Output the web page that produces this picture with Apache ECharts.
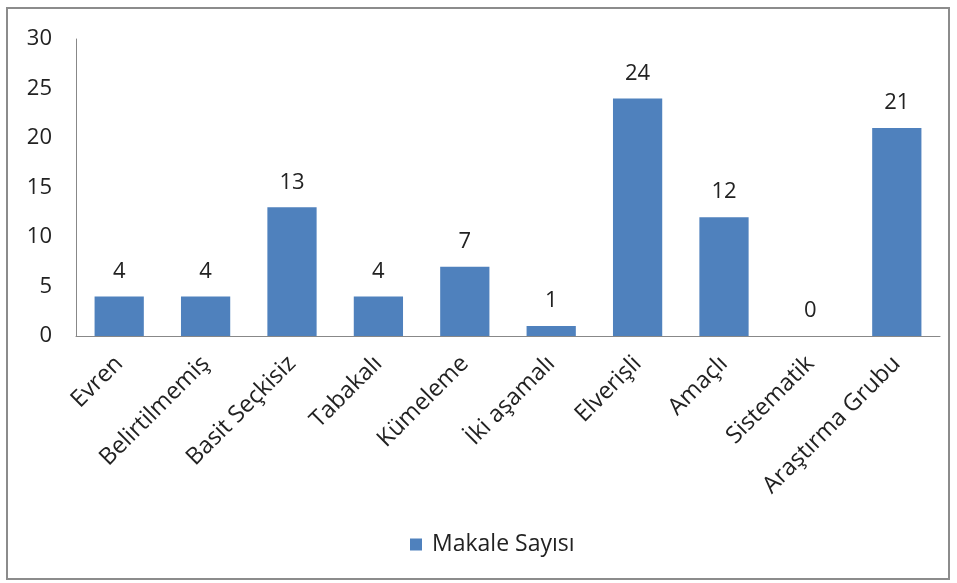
<!DOCTYPE html>
<html><head><meta charset="utf-8">
<script src="https://cdn.jsdelivr.net/npm/echarts@6/dist/echarts.min.js"></script>
<style>html,body{margin:0;padding:0;background:#fff}#c{width:957px;height:583px}</style>
</head><body><div id="c"></div>
<script>
const categories = ["Evren","Belirtilmemiş","Basit Seçkisiz","Tabakalı","Kümeleme","İki aşamalı","Elverişli","Amaçlı","Sistematik","Araştırma Grubu"];
const seriesName = "Makale Sayısı";
const values = [4,4,13,4,7,1,24,12,0,21];
const yTicks = {min:0, max:30, interval:5};
const font = "'Open Sans', 'Liberation Sans', sans-serif";
const chart = echarts.init(document.getElementById('c'), null, {renderer:'canvas'});
chart.setOption({
  animation:false,
  backgroundColor:'#fff',
  graphic:[{type:'rect', shape:{x:7,y:8,width:942,height:571}, style:{fill:'none', stroke:'#8c8c8c', lineWidth:2}, z:-1}],
  grid:{left:76, right:17, top:39, bottom:247, containLabel:false},
  legend:{bottom:22, left:405, itemWidth:12, itemHeight:12, icon:'rect', itemGap:8,
    textStyle:{fontFamily:font, fontSize:23, color:'#222', padding:[0,0,0,5]}, data:[seriesName]},
  xAxis:{type:'category', data:categories,
    axisLine:{lineStyle:{color:'#888', width:1}}, axisTick:{show:false},
    axisLabel:{rotate:45, interval:0, fontFamily:font, fontSize:23.5, color:'#222', margin:24}},
  yAxis:{type:'value', min:yTicks.min, max:yTicks.max, interval:yTicks.interval,
    axisLine:{show:true, lineStyle:{color:'#888', width:1}}, axisTick:{show:false}, splitLine:{show:false},
    axisLabel:{fontFamily:font, fontSize:22, color:'#222', margin:24}},
  series:[{name:seriesName, type:'bar', data:values, barWidth:'57%',
    itemStyle:{color:'#4F81BD'},
    label:{show:true, position:'top', distance:14, fontFamily:font, fontSize:22, color:'#222'}}]
});
</script></body></html>
